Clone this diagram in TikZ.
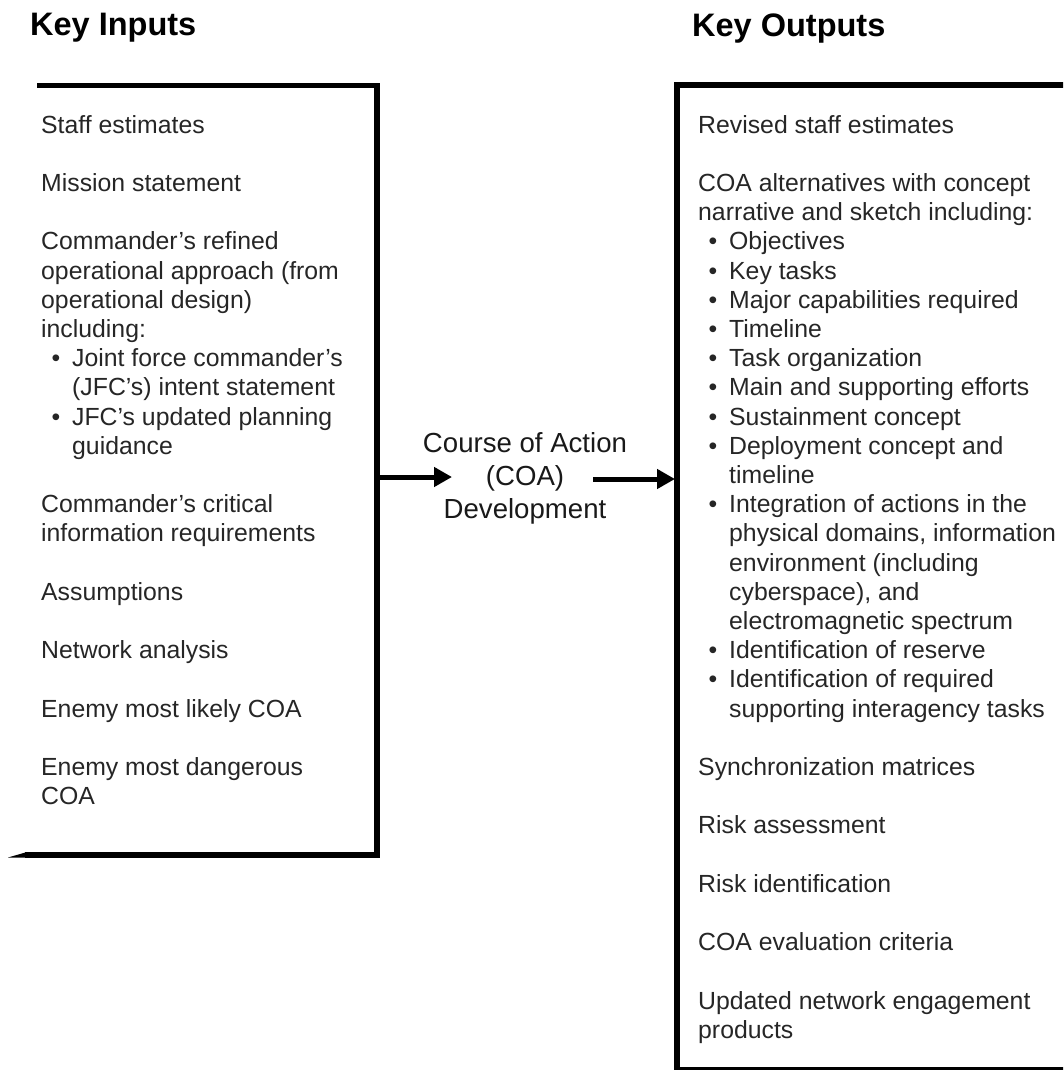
\documentclass[tikz,border=0pt]{standalone}
\usepackage{fontspec}
\setmainfont{Liberation Sans}
\usetikzlibrary{arrows.meta}
\newcommand\bl[1]{\hspace*{10.5pt}\makebox[20.5pt][l]{\textbullet}#1}
\newcommand\cl[1]{\hspace*{31pt}#1}
\begin{document}
\begin{tikzpicture}[x=1pt,y=-1pt,
  body/.style={anchor=base west, align=left, inner sep=0pt, text=black!85,
    font=\fontsize{24.8pt}{29.2pt}\selectfont},
  head/.style={anchor=base west, inner sep=0pt,
    font=\bfseries\fontsize{32.5pt}{36pt}\selectfont},
  centre/.style={anchor=base, align=center, inner sep=0pt, text=black!90,
    font=\fontsize{27.6pt}{33pt}\selectfont},
  rulebox/.style={line width=5.5pt, draw=black, line join=miter},
  arr/.style={line width=5pt, draw=black, -{Triangle[length=18pt,width=19pt]}}]
\useasboundingbox (0,0) rectangle (1063,1070);
\clip (0,0) rectangle (1063,1070);

% headings
\node[head] (hin) at (30,36) {Key Inputs};
\node[head] (hout) at (692,37) {Key Outputs};

% left box (open on the left)
\draw[rulebox] (37,85.5) -- (377,85.5) -- (377,855) -- (25,855);
\fill[black] (8,857.5) -- (26,852.3) -- (26,857.7) -- cycle;

% right box (open on the right)
\draw[rulebox] (1070,85) -- (677,85) -- (677,1070) -- (1070,1070);

% left text (anchored at the baseline of its last line)
\node[body] (inputs) at (41,804.6) {Staff estimates\\[29.2pt]
Mission statement\\[29.2pt]
Commander’s refined\\
operational approach (from\\
operational design)\\
including:\\
\bl{Joint force commander’s}\\
\cl{(JFC’s) intent statement}\\
\bl{JFC’s updated planning}\\
\cl{guidance}\\[29.2pt]
Commander’s critical\\
information requirements\\[29.2pt]
Assumptions\\[29.2pt]
Network analysis\\[29.2pt]
Enemy most likely COA\\[29.2pt]
Enemy most dangerous\\
COA};

% right text (anchored at the baseline of its last line)
\node[body] (outputs) at (698,1038.2) {Revised staff estimates\\[29.2pt]
COA alternatives with concept\\
narrative and sketch including:\\
\bl{Objectives}\\
\bl{Key tasks}\\
\bl{Major capabilities required}\\
\bl{Timeline}\\
\bl{Task organization}\\
\bl{Main and supporting efforts}\\
\bl{Sustainment concept}\\
\bl{Deployment concept and}\\
\cl{timeline}\\
\bl{Integration of actions in the}\\
\cl{physical domains, information}\\
\cl{environment (including}\\
\cl{cyberspace), and}\\
\cl{electromagnetic spectrum}\\
\bl{Identification of reserve}\\
\bl{Identification of required}\\
\cl{supporting interagency tasks}\\[29.2pt]
Synchronization matrices\\[29.2pt]
Risk assessment\\[29.2pt]
Risk identification\\[29.2pt]
COA evaluation criteria\\[29.2pt]
Updated network engagement\\
products};

% centre
\node[centre] (coa) at (525,518) {Course of Action\\(COA)\\Development};

\coordinate (a1s) at (377,477);
\coordinate (a1e) at (452,477);
\coordinate (a2s) at (593,479);
\coordinate (a2e) at (675,479);
\draw[arr] (a1s) -- (a1e);
\draw[arr] (a2s) -- (a2e);
\end{tikzpicture}
\end{document}
